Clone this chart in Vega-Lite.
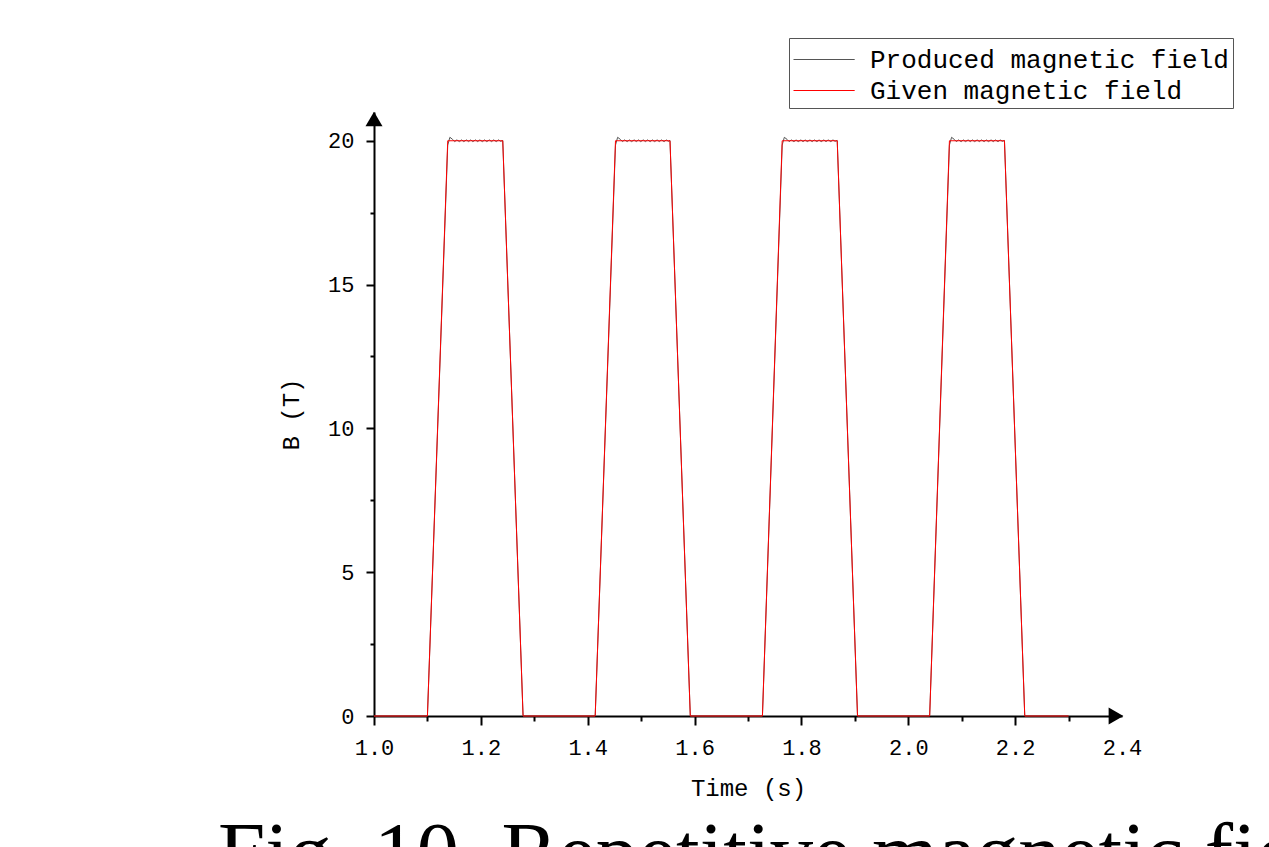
{
  "$schema": "https://vega.github.io/schema/vega-lite/v6.json",
  "width": 748,
  "height": 604,
  "autosize": {"type": "none"},
  "padding": {"left": 374, "top": 112, "right": 147, "bottom": 131},
  "background": "white",
  "config": {"view": {"stroke": null}, "font": "Liberation Mono"},
  "title": {"text": "Fig. 10. Repetitive magnetic field", "orient": "bottom", "anchor": "start", "frame": "group", "dx": -156, "offset": 14, "font": "Liberation Serif", "fontSize": 85, "fontWeight": "normal", "color": "black"},
  "datasets": {
    "produced": [
      {"t": 1.0, "B": 0}, {"t": 1.1, "B": 0},
      {"t": 1.138, "B": 19.85}, {"t": 1.142, "B": 20.12}, {"t": 1.147, "B": 20.05}, {"t": 1.151, "B": 19.97}, {"t": 1.155, "B": 20.03}, {"t": 1.16, "B": 19.97}, {"t": 1.164, "B": 20.03}, {"t": 1.168, "B": 19.97}, {"t": 1.173, "B": 20.03}, {"t": 1.177, "B": 19.97}, {"t": 1.181, "B": 20.03}, {"t": 1.185, "B": 19.97}, {"t": 1.19, "B": 20.03}, {"t": 1.194, "B": 19.97}, {"t": 1.198, "B": 20.03}, {"t": 1.203, "B": 19.97}, {"t": 1.207, "B": 20.03}, {"t": 1.211, "B": 19.97}, {"t": 1.216, "B": 20.03}, {"t": 1.22, "B": 19.97}, {"t": 1.224, "B": 20.03}, {"t": 1.229, "B": 19.97}, {"t": 1.233, "B": 20.03}, {"t": 1.237, "B": 19.98}, {"t": 1.241, "B": 20.01}, {"t": 1.279, "B": 0},
      {"t": 1.414, "B": 0},
      {"t": 1.452, "B": 19.85}, {"t": 1.456, "B": 20.12}, {"t": 1.461, "B": 20.05}, {"t": 1.465, "B": 19.97}, {"t": 1.469, "B": 20.03}, {"t": 1.474, "B": 19.97}, {"t": 1.478, "B": 20.03}, {"t": 1.482, "B": 19.97}, {"t": 1.487, "B": 20.03}, {"t": 1.491, "B": 19.97}, {"t": 1.495, "B": 20.03}, {"t": 1.499, "B": 19.97}, {"t": 1.504, "B": 20.03}, {"t": 1.508, "B": 19.97}, {"t": 1.512, "B": 20.03}, {"t": 1.517, "B": 19.97}, {"t": 1.521, "B": 20.03}, {"t": 1.525, "B": 19.97}, {"t": 1.53, "B": 20.03}, {"t": 1.534, "B": 19.97}, {"t": 1.538, "B": 20.03}, {"t": 1.543, "B": 19.97}, {"t": 1.547, "B": 20.03}, {"t": 1.551, "B": 19.98}, {"t": 1.554, "B": 20.01}, {"t": 1.592, "B": 0},
      {"t": 1.727, "B": 0},
      {"t": 1.764, "B": 19.85}, {"t": 1.768, "B": 20.12}, {"t": 1.773, "B": 20.05}, {"t": 1.777, "B": 19.97}, {"t": 1.781, "B": 20.03}, {"t": 1.786, "B": 19.97}, {"t": 1.79, "B": 20.03}, {"t": 1.794, "B": 19.97}, {"t": 1.799, "B": 20.03}, {"t": 1.803, "B": 19.97}, {"t": 1.807, "B": 20.03}, {"t": 1.811, "B": 19.97}, {"t": 1.816, "B": 20.03}, {"t": 1.82, "B": 19.97}, {"t": 1.824, "B": 20.03}, {"t": 1.829, "B": 19.97}, {"t": 1.833, "B": 20.03}, {"t": 1.837, "B": 19.97}, {"t": 1.842, "B": 20.03}, {"t": 1.846, "B": 19.97}, {"t": 1.85, "B": 20.03}, {"t": 1.855, "B": 19.97}, {"t": 1.859, "B": 20.03}, {"t": 1.863, "B": 19.98}, {"t": 1.867, "B": 20.01}, {"t": 1.905, "B": 0},
      {"t": 2.04, "B": 0},
      {"t": 2.077, "B": 19.85}, {"t": 2.081, "B": 20.12}, {"t": 2.086, "B": 20.05}, {"t": 2.09, "B": 19.97}, {"t": 2.094, "B": 20.03}, {"t": 2.099, "B": 19.97}, {"t": 2.103, "B": 20.03}, {"t": 2.107, "B": 19.97}, {"t": 2.112, "B": 20.03}, {"t": 2.116, "B": 19.97}, {"t": 2.12, "B": 20.03}, {"t": 2.124, "B": 19.97}, {"t": 2.129, "B": 20.03}, {"t": 2.133, "B": 19.97}, {"t": 2.137, "B": 20.03}, {"t": 2.142, "B": 19.97}, {"t": 2.146, "B": 20.03}, {"t": 2.15, "B": 19.97}, {"t": 2.155, "B": 20.03}, {"t": 2.159, "B": 19.97}, {"t": 2.163, "B": 20.03}, {"t": 2.168, "B": 19.97}, {"t": 2.172, "B": 20.03}, {"t": 2.176, "B": 19.98}, {"t": 2.18, "B": 20.01}, {"t": 2.218, "B": 0},
      {"t": 2.3, "B": 0}
    ],
    "given": [
      {"t": 1.0, "B": 0}, {"t": 1.1, "B": 0}, {"t": 1.138, "B": 20}, {"t": 1.241, "B": 20}, {"t": 1.279, "B": 0},
      {"t": 1.414, "B": 0}, {"t": 1.452, "B": 20}, {"t": 1.554, "B": 20}, {"t": 1.592, "B": 0},
      {"t": 1.727, "B": 0}, {"t": 1.764, "B": 20}, {"t": 1.867, "B": 20}, {"t": 1.905, "B": 0},
      {"t": 2.04, "B": 0}, {"t": 2.077, "B": 20}, {"t": 2.18, "B": 20}, {"t": 2.218, "B": 0},
      {"t": 2.3, "B": 0}
    ]
  },
  "layer": [
    {
      "data": {"name": "produced"},
      "mark": {"type": "line", "strokeWidth": 1},
      "encoding": {
        "x": {
          "field": "t", "type": "quantitative",
          "scale": {"domain": [1.0, 2.4], "nice": false, "zero": false},
          "axis": {
            "values": [1.0, 1.1, 1.2, 1.3, 1.4, 1.5, 1.6, 1.7, 1.8, 1.9, 2.0, 2.1, 2.2, 2.3, 2.4],
            "labelExpr": "round(datum.value*10) % 2 == 0 ? format(datum.value, '.1f') : ''",
            "labelFlush": false, "labelOverlap": false,
            "title": "Time (s)", "titleFont": "Liberation Mono", "titleFontSize": 24, "titleFontWeight": "normal", "titleColor": "black", "titlePadding": 18,
            "labelFont": "Liberation Mono", "labelFontSize": 22, "labelColor": "black", "labelPadding": 12,
            "domainColor": "black", "domainWidth": 2,
            "tickColor": "black", "tickWidth": 2,
            "tickSize": {"condition": {"test": "round(datum.value*10) % 2 == 0", "value": 9}, "value": 5},
            "tickOpacity": {"condition": {"test": "datum.value > 2.35", "value": 0}, "value": 1},
            "grid": false
          }
        },
        "y": {
          "field": "B", "type": "quantitative",
          "scale": {"domain": [0, 21], "nice": false},
          "axis": {
            "values": [0, 2.5, 5, 7.5, 10, 12.5, 15, 17.5, 20],
            "labelExpr": "datum.value % 5 == 0 ? format(datum.value, 'd') : ''",
            "labelFlush": false, "labelOverlap": false,
            "title": "B (T)", "titleFont": "Liberation Mono", "titleFontSize": 24, "titleFontWeight": "normal", "titleColor": "black", "titlePadding": 24,
            "labelFont": "Liberation Mono", "labelFontSize": 22, "labelColor": "black", "labelPadding": 12,
            "domainColor": "black", "domainWidth": 2,
            "tickColor": "black", "tickWidth": 2,
            "tickSize": {"condition": {"test": "datum.value % 5 == 0", "value": 8}, "value": 4},
            "grid": false
          }
        },
        "color": {
          "datum": "Produced magnetic field",
          "scale": {"domain": ["Produced magnetic field", "Given magnetic field"], "range": ["#555555", "#ff0000"]},
          "legend": {
            "title": null, "orient": "none", "legendX": 415, "legendY": -74,
            "strokeColor": "#555555", "padding": 4, "fillColor": "white",
            "symbolType": "M-1,0H2.6", "symbolSize": 1156, "symbolStrokeWidth": 1,
            "labelOffset": 42, "labelFont": "Liberation Mono", "labelFontSize": 26, "labelColor": "black", "labelLimit": 0,
            "rowPadding": 0
          }
        }
      }
    },
    {
      "data": {"name": "given"},
      "mark": {"type": "line", "strokeWidth": 1},
      "encoding": {
        "x": {"field": "t", "type": "quantitative"},
        "y": {"field": "B", "type": "quantitative"},
        "color": {"datum": "Given magnetic field"}
      }
    },
    {
      "data": {"values": [{}]},
      "mark": {"type": "point", "shape": "triangle-up", "filled": true, "color": "black", "opacity": 1, "size": 289, "yOffset": 7},
      "encoding": {
        "x": {"datum": 1.0, "type": "quantitative"},
        "y": {"datum": 21, "type": "quantitative"}
      }
    },
    {
      "data": {"values": [{}]},
      "mark": {"type": "point", "shape": "triangle-right", "filled": true, "color": "black", "opacity": 1, "size": 289, "xOffset": -6},
      "encoding": {
        "x": {"datum": 2.4, "type": "quantitative"},
        "y": {"datum": 0, "type": "quantitative"}
      }
    }
  ]
}
